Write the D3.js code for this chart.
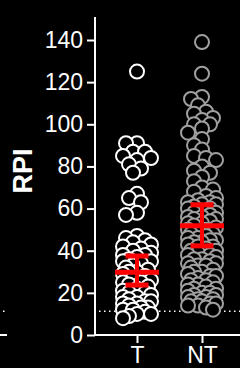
<!DOCTYPE html>
<html>
<head>
<meta charset="utf-8">
<script src="https://cdn.jsdelivr.net/npm/d3@7"></script>
<style>
  body { margin: 0; background: #000; }
  svg { display: block; }
</style>
</head>
<body>
<div id="chart"></div>
<script>
  var width = 240,
  height = 368;

  // groups and their read-off values
  var groups = ["T", "NT"];
  var tValues = [125, 91, 91, 87, 87, 85, 84, 83, 81, 79, 77, 67, 65, 63, 58, 57,
    47, 46, 45, 44, 43, 42, 41, 40, 39, 38, 38, 37, 36, 35, 35, 34, 33, 32, 31, 30, 30,
    29, 28, 27, 26, 25, 25, 24, 23, 22, 21, 20, 20, 19, 18, 18, 17, 16, 16, 15, 15,
    14, 13, 13, 12, 12, 11, 10, 10, 9, 8];
  var ntValues = [139, 124, 113, 112, 109, 106, 105, 103, 102, 100, 100, 98, 96, 93, 90, 88,
    85, 84, 83, 80, 78, 77, 75, 73, 70, 69, 68, 66, 65, 64, 63, 63, 62, 62, 61, 60, 60,
    59, 58, 58, 57, 56, 56, 55, 55, 54, 53, 53, 52, 51, 50, 50, 49, 48, 48, 47, 46, 46,
    45, 45, 44, 44, 43, 42, 42, 41, 40, 40, 39, 38, 38, 37, 36, 36, 35, 34, 34, 33, 33,
    32, 31, 30, 30, 29, 28, 28, 27, 26, 26, 25, 24, 24, 23, 22, 22, 21, 20, 20, 19, 19,
    18, 18, 17, 17, 16, 16, 15, 15, 14, 14, 13, 12];
  // error bar ends and centre (lower, centre, upper)
  var errBars = [[23.7, 29.8, 37.5], [42.3, 51.9, 61.8]];
  var yTicks = [0, 20, 40, 60, 80, 100, 120, 140];
  var cutoff = 11.3;

  var svg = d3.select("#chart").append("svg")
      .attr("width", width)
      .attr("height", height);

  var y = d3.scaleLinear()
      .domain([0, 140])
      .range([335, 40]);

  var x = d3.scalePoint()
      .domain(groups)
      .range([137, 202]);

  // leftovers of the neighbouring panel
  svg.append("line")
      .attr("x1", 0).attr("x2", 7)
      .attr("y1", y(0)).attr("y2", y(0))
      .attr("stroke", "#fff").attr("stroke-width", 2);
  svg.append("line")
      .attr("x1", 3).attr("x2", 6)
      .attr("y1", y(cutoff)).attr("y2", y(cutoff))
      .attr("stroke", "#fff").attr("stroke-width", 1.5)
      .attr("stroke-dasharray", "1.5,4");

  // dotted cutoff line
  svg.append("line")
      .attr("x1", 99).attr("x2", width)
      .attr("y1", y(cutoff)).attr("y2", y(cutoff))
      .attr("stroke", "#fff")
      .attr("stroke-width", 1.5)
      .attr("stroke-dasharray", "1.5,3.5");

  // simple beeswarm: put each point nearest the centre where it fits
  function swarm(values, cx) {
    var placed = [];
    var offsets = [0, -4, 4, -8, 8, -11, 11, -14, 14];
    values.slice().sort(function(a, b) { return b - a; }).forEach(function(v) {
      var py = y(v), best = null, bestD = -1;
      for (var i = 0; i < offsets.length; i++) {
        var px = cx + offsets[i];
        var dmin = d3.min(placed, function(p) { return Math.hypot(p.x - px, p.y - py); });
        if (dmin === undefined) dmin = Infinity;
        if (dmin >= 9) { best = px; break; }
        if (dmin > bestD) { bestD = dmin; best = px; }
      }
      placed.push({x: best, y: py});
    });
    return placed;
  }

  var series = [
    {name: "T", values: tValues, color: "#fff"},
    {name: "NT", values: ntValues, color: "#a0a0a0"}
  ];

  series.forEach(function(s) {
    svg.append("g")
      .selectAll("circle")
      .data(swarm(s.values, x(s.name)))
      .enter().append("circle")
        .attr("cx", function(d) { return d.x; })
        .attr("cy", function(d) { return d.y; })
        .attr("r", 7)
        .attr("fill", "#000")
        .attr("stroke", s.color)
        .attr("stroke-width", 2);
  });

  // red error bars
  var eb = svg.append("g").selectAll("g")
      .data(errBars)
      .enter().append("g")
      .attr("stroke", "#ff0000");
  eb.append("line")
      .attr("x1", function(d, i) { return x(groups[i]); })
      .attr("x2", function(d, i) { return x(groups[i]); })
      .attr("y1", function(d) { return y(d[0]); })
      .attr("y2", function(d) { return y(d[2]); })
      .attr("stroke-width", 4);
  eb.append("line")
      .attr("x1", function(d, i) { return x(groups[i]) - 22; })
      .attr("x2", function(d, i) { return x(groups[i]) + 22; })
      .attr("y1", function(d) { return y(d[1]); })
      .attr("y2", function(d) { return y(d[1]); })
      .attr("stroke-width", 5);
  [0, 2].forEach(function(k) {
    eb.append("line")
      .attr("x1", function(d, i) { return x(groups[i]) - 11.5; })
      .attr("x2", function(d, i) { return x(groups[i]) + 11.5; })
      .attr("y1", function(d) { return y(d[k]); })
      .attr("y2", function(d) { return y(d[k]); })
      .attr("stroke-width", 5);
  });

  // axes
  var yAxis = svg.append("g")
      .attr("transform", "translate(95,0)")
      .call(d3.axisLeft(y).tickValues(yTicks).tickSize(8).tickPadding(4));
  yAxis.select(".domain")
      .attr("d", "M0," + 17 + "V" + y(0));

  var xAxis = svg.append("g")
      .attr("transform", "translate(0," + y(0) + ")")
      .call(d3.axisBottom(x).tickSize(8).tickPadding(4));
  xAxis.select(".domain")
      .attr("d", "M95,0H" + width);

  svg.selectAll(".tick line, .domain")
      .attr("stroke", "#fff")
      .attr("stroke-width", 2);
  svg.selectAll(".tick text")
      .attr("fill", "#fff")
      .style("font-family", "'Liberation Sans', Arial, sans-serif")
      .style("font-size", "23px");

  svg.append("text")
      .attr("transform", "translate(32,171) rotate(-90)")
      .attr("text-anchor", "middle")
      .attr("fill", "#fff")
      .style("font-family", "'Liberation Sans', Arial, sans-serif")
      .style("font-weight", "bold")
      .style("font-size", "27px")
      .text("RPI");
</script>
</body>
</html>
